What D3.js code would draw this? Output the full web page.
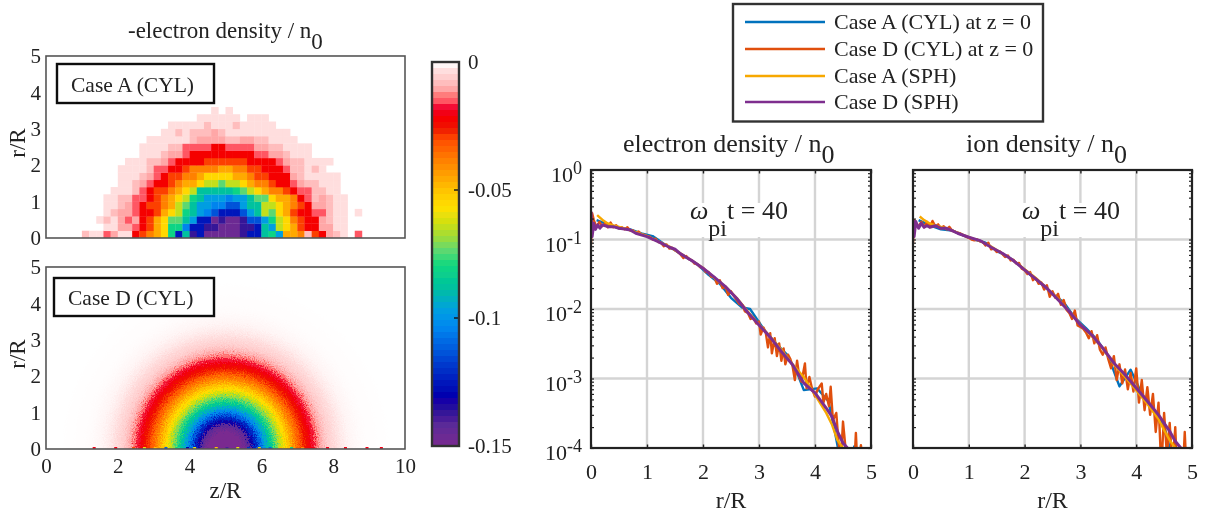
<!DOCTYPE html>
<html>
<head>
<meta charset="utf-8">
<script src="https://cdn.jsdelivr.net/npm/d3@7"></script>
<style>
  body { margin: 0; background: #fff; }
  svg { display: block; }
  text { font-family: "Liberation Serif", serif; fill: #222; }
</style>
</head>
<body>
<div id="chart"></div>
<script>
// Colour scale of the heat maps (0 = top, 1 = bottom)
const cmapStops = [0, 0.008, 0.025, 0.05, 0.07, 0.09, 0.105, 0.12, 0.15, 0.175, 0.2, 0.25, 0.3, 0.34, 0.38, 0.42, 0.46, 0.49, 0.53, 0.59, 0.645, 0.69, 0.74, 0.8, 0.865, 0.91, 0.945, 1];
const cmapColors = ["#ffffff", "#fff6f6", "#ffdcdc", "#ffc4c4", "#ffa8a8", "#ff7070", "#ff5060", "#f0002a", "#f50000", "#ee1a00", "#ff4a00", "#ff7a00", "#ffa500", "#ffc800", "#ffe000", "#d0e010", "#98dc40", "#60d870", "#10d880", "#00c0a0", "#00a0e0", "#0088f0", "#0060e0", "#0030c8", "#0000b0", "#301098", "#5a2a98", "#7a2a90"];
const cmapLevels = 64;
const barTicks = [0, -0.05, -0.1, -0.15];

// Case A (CYL): one string per r row from the axis up, one letter per z cell
const caseALetters = "abcdefghijklmnopqrs";
const caseALetterValues = [-0.0045, -0.0075, -0.011, -0.0145, -0.0225, -0.03, -0.039, -0.0465, -0.0555, -0.064, -0.0735, -0.08, -0.0885, -0.0975, -0.105, -0.1125, -0.1245, -0.136, -0.1455];
const caseARows = [
  ".....baadcaaefghilqmrqsssssrqqmlnhhgbfecba.d......",
  "........aaccdefhilloqqrrsssrrqmnjihfeeccaa........",
  ".......abacdcefhikkmnqqsrssrppnljigfeecbaa........",
  "........abccdeefhijlmnopqqqpnmjkihfeeddbaa.a......",
  "........aabcdeffghjkmnnooppnmmjjihgfeccbaa........",
  "........aabbddefghijlmnnnonnmkkihhgedbcbaa........",
  ".........aaabdeffghijmmmmmlkjihggfeddbbaa.........",
  "..........aabcdeefghhijjkjjihggfeedcbbaaa.........",
  "..........aaabcdeffgghiiiihhgffeeecbaaaaa.........",
  "..........aaaabddeefgggghhggffeeedbbaba...........",
  "...........aaabbcdeeeeffffffeeeedcbbaaaa..........",
  ".............aaabccdeeeeeeeeeddccbaaa.............",
  ".............aaaabbddddeeddddccbbaaaa.............",
  "..............aaaaaabccccbbccbbaaaa...............",
  "................aababbbcbaaaaaaaaa................",
  ".................aaaaabaaabaaaaa..................",
  ".....................aaaaaa.aaa...................",
  ".......................a.a........................"
];
const caseACell = 0.2;

// Case D (CYL): radial bands around the centre of the box
const caseDCentre = 5;
const caseDRadius = [0.1, 0.2, 0.3, 0.4, 0.5, 0.6, 0.7, 0.8, 0.9, 1.0, 1.1, 1.2, 1.3, 1.4, 1.5, 1.6, 1.7, 1.8, 1.9, 2.0, 2.1, 2.2, 2.3, 2.4, 2.5, 2.6, 2.7, 2.8, 2.9, 3.0, 3.1, 3.2, 3.3, 3.4, 3.5, 3.6, 3.7, 3.8, 3.9, 4.0, 4.2, 4.5];
const caseDValue = [-0.15, -0.15, -0.15, -0.15, -0.15, -0.147, -0.142, -0.132, -0.122, -0.111, -0.102, -0.093, -0.085, -0.077, -0.07, -0.063, -0.056, -0.05, -0.044, -0.038, -0.033, -0.028, -0.025, -0.021, -0.0175, -0.0135, -0.0105, -0.008, -0.006, -0.0048, -0.0038, -0.003, -0.0023, -0.0018, -0.0013, -0.001, -0.0008, -0.0006, -0.0004, -0.0003, -0.0002, -0.0001];
// noisy cells that sit right on the axis of case D
const caseDAxisZ = [1.3, 1.9, 2.4, 2.7, 3.0, 3.3, 3.6, 3.9, 4.1, 4.4, 4.7, 5.0, 5.3, 5.6, 5.9, 6.2, 6.5, 6.8, 7.1, 7.4, 7.8, 8.3, 8.9, 9.3];
const caseDAxisValue = [-0.02, -0.02, -0.03, -0.06, -0.05, -0.11, -0.08, -0.13, -0.06, -0.15, -0.05, -0.14, -0.06, -0.12, -0.06, -0.11, -0.05, -0.08, -0.04, -0.02, -0.02, -0.02, -0.02, -0.02];

const zTicks = [0, 2, 4, 6, 8, 10];
const rTicks = [0, 1, 2, 3, 4, 5];
const densityDecades = [1, 0.1, 0.01, 0.001, 0.0001];
const decadeLabels = ["0", "-1", "-2", "-3", "-4"];

// Radial profiles, [r/R, density / n0]
const electronA = [[0.1, 0.19], [0.3, 0.165], [0.5, 0.145], [0.7, 0.14], [0.9, 0.122], [1.1, 0.112], [1.3, 0.087], [1.5, 0.07], [1.7, 0.055], [1.9, 0.044], [2.1, 0.031], [2.3, 0.023], [2.5, 0.0145], [2.7, 0.0105], [2.84, 0.01], [3.1, 0.0049], [3.3, 0.0032], [3.5, 0.0022], [3.7, 0.0011], [3.8, 0.00068], [4.04, 0.00072], [4.24, 0.00047], [4.35, 0.00018], [4.41, 0.0001], [4.45, 0.00005], [4.65, 0.00005], [4.7, 0.000105], [4.74, 0.00005]];
const electronD = [[0, 0.085], [0.02, 0.24], [0.05, 0.19], [0.1, 0.15], [0.15, 0.18], [0.2, 0.155], [0.25, 0.17], [0.3, 0.15], [0.35, 0.175], [0.4, 0.15], [0.45, 0.16], [0.5, 0.145], [0.55, 0.15], [0.6, 0.14], [0.65, 0.15], [0.7, 0.135], [0.75, 0.135], [0.8, 0.125], [0.85, 0.13], [0.9, 0.118], [0.95, 0.117], [1, 0.112], [1.05, 0.11], [1.1, 0.1], [1.15, 0.103], [1.2, 0.092], [1.25, 0.09], [1.3, 0.08], [1.35, 0.085], [1.4, 0.074], [1.45, 0.076], [1.5, 0.07], [1.55, 0.066], [1.6, 0.061], [1.65, 0.054], [1.7, 0.058], [1.75, 0.052], [1.8, 0.05], [1.85, 0.045], [1.9, 0.044], [1.95, 0.04], [2, 0.039], [2.05, 0.034], [2.1, 0.034], [2.15, 0.029], [2.2, 0.029], [2.25, 0.023], [2.3, 0.026], [2.35, 0.02], [2.4, 0.021], [2.45, 0.016], [2.5, 0.018], [2.55, 0.0155], [2.6, 0.0135], [2.65, 0.0118], [2.7, 0.0115], [2.75, 0.0092], [2.8, 0.0088], [2.85, 0.0072], [2.9, 0.0075], [2.95, 0.0062], [3, 0.0066], [3.03, 0.0043], [3.08, 0.0054], [3.12, 0.0046], [3.16, 0.0028], [3.2, 0.0045], [3.23, 0.0023], [3.28, 0.0038], [3.32, 0.0021], [3.36, 0.0032], [3.4, 0.0018], [3.44, 0.0027], [3.47, 0.0016], [3.52, 0.0022], [3.56, 0.0019], [3.6, 0.0015], [3.64, 0.00095], [3.68, 0.0018], [3.72, 0.00105], [3.76, 0.0009], [3.82, 0.00165], [3.85, 0.00072], [3.9, 0.00105], [3.95, 0.0007], [4, 0.00055], [4.05, 0.0007], [4.12, 0.00085], [4.15, 0.00045], [4.2, 0.0006], [4.25, 0.0004], [4.28, 0.00076], [4.32, 0.00025], [4.38, 0.00032], [4.42, 0.00012], [4.46, 0.00006], [4.5, 0.00024], [4.55, 0.00009], [4.6, 0.00005], [4.7, 0.00005], [4.73, 0.000165], [4.76, 0.00005], [4.82, 0.00011], [4.86, 0.00005], [4.9, 0.00005]];
const electronSphA = [[0.11, 0.225], [0.22, 0.187], [0.3, 0.17], [0.4, 0.16], [0.6, 0.145], [0.8, 0.128], [1, 0.112], [1.2, 0.094], [1.4, 0.079], [1.6, 0.063], [1.8, 0.05], [2, 0.039], [2.2, 0.028], [2.4, 0.021], [2.6, 0.0145], [2.8, 0.0092], [3, 0.006], [3.2, 0.004], [3.4, 0.0026], [3.6, 0.0016], [3.8, 0.00105], [4, 0.00058], [4.2, 0.00032], [4.3, 0.00022], [4.4, 0.00013], [4.5, 0.0001], [4.55, 0.00006]];
const electronSphD = [[0, 0.252], [0.02, 0.11], [0.05, 0.171], [0.08, 0.14], [0.12, 0.162], [0.16, 0.145], [0.2, 0.162], [0.3, 0.153], [0.4, 0.153], [0.5, 0.145], [0.6, 0.142], [0.7, 0.137], [0.8, 0.123], [1, 0.11], [1.2, 0.0933], [1.4, 0.0774], [1.5, 0.0724], [1.6, 0.0621], [1.8, 0.0498], [2, 0.0386], [2.2, 0.0287], [2.4, 0.021], [2.6, 0.0143], [2.8, 0.0089], [3, 0.0059], [3.2, 0.00394], [3.4, 0.00245], [3.6, 0.00158], [3.8, 0.00086], [4, 0.00062], [4.2, 0.000376], [4.3, 0.000285], [4.4, 0.000174], [4.5, 0.000118], [4.58, 0.0001]];

const ionA = [[0.1, 0.19], [0.3, 0.16], [0.5, 0.14], [0.7, 0.135], [0.9, 0.115], [1.1, 0.1], [1.3, 0.09], [1.5, 0.068], [1.7, 0.057], [1.9, 0.043], [2.1, 0.031], [2.3, 0.023], [2.5, 0.0165], [2.7, 0.0125], [2.9, 0.0075], [3.1, 0.0053], [3.3, 0.0036], [3.5, 0.0021], [3.7, 0.00077], [3.9, 0.00134], [4.1, 0.0006], [4.3, 0.00038], [4.5, 0.00021], [4.6, 0.0001], [4.65, 0.00005]];
const ionD = [[0, 0.088], [0.02, 0.19], [0.05, 0.17], [0.1, 0.155], [0.15, 0.18], [0.2, 0.15], [0.25, 0.18], [0.3, 0.15], [0.35, 0.185], [0.4, 0.155], [0.45, 0.165], [0.5, 0.145], [0.55, 0.155], [0.6, 0.14], [0.65, 0.152], [0.7, 0.135], [0.75, 0.13], [0.8, 0.125], [0.85, 0.122], [0.9, 0.115], [0.95, 0.11], [1, 0.105], [1.05, 0.1], [1.1, 0.097], [1.15, 0.1], [1.2, 0.094], [1.25, 0.092], [1.3, 0.082], [1.35, 0.09], [1.4, 0.072], [1.45, 0.074], [1.5, 0.066], [1.55, 0.068], [1.6, 0.062], [1.65, 0.056], [1.7, 0.059], [1.75, 0.05], [1.8, 0.051], [1.85, 0.045], [1.9, 0.046], [1.95, 0.038], [2, 0.036], [2.05, 0.032], [2.1, 0.034], [2.15, 0.026], [2.2, 0.028], [2.25, 0.023], [2.3, 0.024], [2.35, 0.019], [2.4, 0.022], [2.45, 0.015], [2.5, 0.018], [2.55, 0.0145], [2.6, 0.0165], [2.65, 0.0115], [2.7, 0.0135], [2.75, 0.0098], [2.8, 0.0088], [2.85, 0.0072], [2.9, 0.0095], [2.95, 0.0058], [3, 0.0055], [3.05, 0.0052], [3.1, 0.0046], [3.15, 0.0038], [3.2, 0.0048], [3.25, 0.0032], [3.3, 0.0042], [3.35, 0.0026], [3.4, 0.0022], [3.45, 0.0028], [3.5, 0.0019], [3.55, 0.0014], [3.6, 0.0021], [3.65, 0.00095], [3.7, 0.0016], [3.75, 0.00085], [3.8, 0.00135], [3.85, 0.0007], [3.9, 0.0012], [3.95, 0.00065], [4, 0.0014], [4.05, 0.00045], [4.1, 0.00095], [4.15, 0.00035], [4.2, 0.00075], [4.25, 0.0003], [4.3, 0.0006], [4.35, 0.00017], [4.4, 0.00045], [4.45, 0.00005], [4.5, 0.00032], [4.55, 0.00008], [4.6, 0.00023], [4.65, 0.00005], [4.7, 0.0002], [4.73, 0.00005], [4.84, 0.00005], [4.87, 0.00017], [4.9, 0.00005]];
const ionSphA = [[0.12, 0.214], [0.2, 0.19], [0.3, 0.17], [0.4, 0.16], [0.6, 0.145], [0.8, 0.125], [1, 0.108], [1.2, 0.095], [1.4, 0.079], [1.6, 0.063], [1.8, 0.05], [2, 0.0375], [2.2, 0.028], [2.4, 0.02], [2.6, 0.014], [2.8, 0.0093], [3, 0.006], [3.2, 0.0041], [3.4, 0.0027], [3.6, 0.0016], [3.8, 0.00105], [4, 0.00068], [4.2, 0.00043], [4.4, 0.00026], [4.5, 0.00018], [4.6, 0.00013], [4.7, 0.0001]];
const ionSphD = [[0, 0.191], [0.02, 0.11], [0.05, 0.181], [0.1, 0.145], [0.15, 0.171], [0.2, 0.15], [0.25, 0.158], [0.3, 0.15], [0.4, 0.158], [0.5, 0.145], [0.6, 0.145], [0.7, 0.134], [0.8, 0.123], [1, 0.1077], [1.2, 0.0965], [1.4, 0.0774], [1.6, 0.0634], [1.8, 0.0498], [2, 0.0366], [2.2, 0.0271], [2.4, 0.0199], [2.6, 0.01355], [2.8, 0.0092], [3, 0.0059], [3.2, 0.00425], [3.4, 0.00274], [3.6, 0.00167], [3.8, 0.00113], [4, 0.00073], [4.2, 0.00047], [4.4, 0.0003], [4.6, 0.000174], [4.7, 0.000125], [4.8, 0.0001]];

const seriesNames = ["Case A (CYL) at z = 0", "Case D (CYL) at z = 0", "Case A (SPH)", "Case D (SPH)"];
const seriesColors = ["#0072bd", "#e0500f", "#f7a800", "#7e2f8e"];
const seriesWidths = [2.4, 2.4, 2.4, 3];

const width = 1214, height = 516;

const svg = d3.select("#chart").append("svg")
    .attr("width", width)
    .attr("height", height);

const defs = svg.append("defs");

// the reference is a soft raster, so everything gets a slight blur
const soft = defs.append("filter").attr("id", "soft")
    .attr("filterUnits", "userSpaceOnUse")
    .attr("x", 0).attr("y", 0).attr("width", width).attr("height", height);
soft.append("feGaussianBlur").attr("stdDeviation", 0.55);

// grain for the particle noise of case D: it only shakes the band edges
const grain = defs.append("filter").attr("id", "grain")
    .attr("filterUnits", "userSpaceOnUse")
    .attr("x", 0).attr("y", 200).attr("width", 480).attr("height", 316);
grain.append("feTurbulence")
    .attr("type", "fractalNoise").attr("baseFrequency", 0.9)
    .attr("numOctaves", 2).attr("seed", 4).attr("result", "noise");
grain.append("feDisplacementMap")
    .attr("in", "SourceGraphic").attr("in2", "noise")
    .attr("scale", 11)
    .attr("xChannelSelector", "R").attr("yChannelSelector", "G");

const root = svg.append("g").attr("filter", "url(#soft)");

const cmap = d3.scaleLinear().domain(cmapStops).range(cmapColors).interpolate(d3.interpolateRgb);
const valueToT = d3.scaleLinear().domain([0, -0.15]).range([0, 1]).clamp(true);
// colour bar has 64 flat levels
const levelOf = v => Math.min(cmapLevels - 1, Math.floor(valueToT(v) * cmapLevels));
const levelColor = l => cmap((l + 0.5) / cmapLevels);
const hyphen = d => d3.format("~g")(d).replace("\u2212", "-");

const mapLeft = 46, mapRight = 405;
const xMap = d3.scaleLinear().domain([0, 10]).range([mapLeft, mapRight]);

function drawMapFrame(top, bottom, id) {
    const yMap = d3.scaleLinear().domain([0, 5]).range([bottom, top]);
    defs.append("clipPath").attr("id", id)
        .append("rect")
        .attr("x", mapLeft).attr("y", top)
        .attr("width", mapRight - mapLeft).attr("height", bottom - top);
    return yMap;
}

function drawMapAxes(yMap, top, bottom, withX) {
    root.append("rect")
        .attr("x", mapLeft).attr("y", top)
        .attr("width", mapRight - mapLeft).attr("height", bottom - top)
        .attr("fill", "none").attr("stroke", "#555").attr("stroke-width", 1.6);

    const yAxis = root.append("g")
        .attr("transform", "translate(" + mapLeft + ",0)")
        .call(d3.axisLeft(yMap).tickValues(rTicks).tickFormat(d3.format("d")).tickSize(0).tickPadding(5));
    yAxis.select(".domain").remove();
    yAxis.selectAll("text").style("font-size", "21px").style("font-family", null);

    root.append("text")
        .attr("transform", "translate(25," + ((top + bottom) / 2 - 4) + ") rotate(-90)")
        .attr("text-anchor", "middle")
        .style("font-size", "23px")
        .text("r/R");

    if (withX) {
        const xAxis = root.append("g")
            .attr("transform", "translate(0," + bottom + ")")
            .call(d3.axisBottom(xMap).tickValues(zTicks).tickFormat(d3.format("d")).tickSize(0).tickPadding(9));
        xAxis.select(".domain").remove();
        xAxis.selectAll("text").style("font-size", "21px").style("font-family", null);
    }
}

function labelBox(x0, x1, y0, y1, label) {
    root.append("rect")
        .attr("x", x0).attr("y", y0)
        .attr("width", x1 - x0).attr("height", y1 - y0)
        .attr("fill", "#fff").attr("stroke", "#111").attr("stroke-width", 2.4);
    root.append("text")
        .attr("x", x0 + 14).attr("y", (y0 + y1) / 2 + 8)
        .style("font-size", "21.5px")
        .text(label);
}

// Case A heat map
const topA = 56, bottomA = 238;
const yA = drawMapFrame(topA, bottomA, "clipA");
const cellsA = caseARows.flatMap((row, j) => Array.from(row, (ch, i) => ({
    i, j, value: ch === "." ? 0 : caseALetterValues[caseALetters.indexOf(ch)]
}))).filter(d => d.value !== 0);

root.append("g")
    .attr("clip-path", "url(#clipA)")
    .selectAll("rect")
    .data(cellsA)
    .join("rect")
    .attr("x", d => xMap(d.i * caseACell))
    .attr("y", d => yA((d.j + 1) * caseACell))
    .attr("width", xMap(caseACell) - xMap(0) + 0.3)
    .attr("height", yA(0) - yA(caseACell) + 0.3)
    .attr("fill", d => levelColor(levelOf(d.value)));

drawMapAxes(yA, topA, bottomA, false);
labelBox(57, 214, 64, 103, "Case A (CYL)");

// Case D heat map, outermost band first
const topD = 267, bottomD = 449;
const yD = drawMapFrame(topD, bottomD, "clipD");
const bands = d3.zip(caseDRadius, caseDValue).reverse();
const clippedD = root.append("g").attr("clip-path", "url(#clipD)");

clippedD.append("g")
    .attr("filter", "url(#grain)")
    .selectAll("ellipse")
    .data(bands)
    .join("ellipse")
    .attr("cx", xMap(caseDCentre))
    .attr("cy", yD(0))
    .attr("rx", d => xMap(caseDCentre + d[0]) - xMap(caseDCentre))
    .attr("ry", d => yD(0) - yD(d[0]))
    .attr("fill", d => cmap(valueToT(d[1])));

clippedD.append("g")
    .selectAll("rect")
    .data(d3.zip(caseDAxisZ, caseDAxisValue))
    .join("rect")
    .attr("x", d => xMap(d[0]))
    .attr("y", bottomD - 2)
    .attr("width", 3)
    .attr("height", 2)
    .attr("fill", d => cmap(valueToT(d[1])));

drawMapAxes(yD, topD, bottomD, true);
labelBox(54, 214, 278, 316, "Case D (CYL)");

root.append("text")
    .attr("x", (xMap(0) + xMap(10)) / 2).attr("y", 498)
    .attr("text-anchor", "middle")
    .style("font-size", "23px")
    .text("z/R");

root.append("text")
    .attr("x", 128).attr("y", 38)
    .style("font-size", "23px")
    .call(t => {
        t.append("tspan").text("-electron density / n");
        t.append("tspan").attr("dy", 11).text("0");
    });

// Colour bar
const barLeft = 432, barRight = 459;
const yBar = d3.scaleLinear().domain([-0.15, 0]).range([446, 62]);

root.append("g")
    .selectAll("rect")
    .data(d3.range(cmapLevels))
    .join("rect")
    .attr("x", barLeft)
    .attr("y", l => yBar(-(l / cmapLevels) * 0.15))
    .attr("width", barRight - barLeft)
    .attr("height", (yBar(-0.15) - yBar(0)) / cmapLevels + 0.3)
    .attr("fill", l => levelColor(l));

const barAxis = root.append("g")
    .attr("transform", "translate(" + barRight + ",0)")
    .call(d3.axisRight(yBar).tickValues(barTicks).tickFormat(hyphen).tickSize(0).tickPadding(9));
barAxis.select(".domain").remove();
barAxis.selectAll("text").style("font-size", "21px").style("font-family", null)
    .attr("text-anchor", "start");

root.append("g")
    .selectAll("line")
    .data(barTicks.slice(1, 3))
    .join("line")
    .attr("x1", barRight - 5).attr("x2", barRight)
    .attr("y1", d => yBar(d)).attr("y2", d => yBar(d))
    .attr("stroke", "#111").attr("stroke-width", 1.4);

root.append("rect")
    .attr("x", barLeft).attr("y", 62)
    .attr("width", barRight - barLeft).attr("height", 384)
    .attr("fill", "none").attr("stroke", "#333").attr("stroke-width", 2.4);

// Legend of the profile panels
const legendY = [22, 49, 76, 102];

root.append("rect")
    .attr("x", 733).attr("y", 4)
    .attr("width", 310).attr("height", 117.5)
    .attr("fill", "#fff").attr("stroke", "#333").attr("stroke-width", 2.4);

seriesNames.forEach((name, i) => {
    root.append("line")
        .attr("x1", 745).attr("x2", 825)
        .attr("y1", legendY[i]).attr("y2", legendY[i])
        .attr("stroke", seriesColors[i]).attr("stroke-width", 2.4);
    root.append("text")
        .attr("x", 834).attr("y", legendY[i] + 7)
        .style("font-size", "22px")
        .text(name);
});

// Profile panels
const panelTop = 170, panelBottom = 448;
const yLog = d3.scaleLog().domain([1e-4, 1]).range([panelBottom, panelTop]);
const xTicks = [0, 1, 2, 3, 4, 5];

function drawPanel(opt) {
    const xLin = d3.scaleLinear().domain([0, 5]).range([opt.left, opt.right]);
    const g = root.append("g");

    g.append("rect")
        .attr("x", opt.left).attr("y", panelTop)
        .attr("width", opt.right - opt.left).attr("height", panelBottom - panelTop)
        .attr("fill", "#fff");

    // grid
    g.append("g").selectAll("line")
        .data(xTicks.slice(1, 5))
        .join("line")
        .attr("x1", d => xLin(d)).attr("x2", d => xLin(d))
        .attr("y1", panelTop).attr("y2", panelBottom)
        .attr("stroke", "#d4d4d4").attr("stroke-width", 2.4);
    g.append("g").selectAll("line")
        .data(densityDecades.slice(1, 4))
        .join("line")
        .attr("x1", opt.left).attr("x2", opt.right)
        .attr("y1", d => yLog(d)).attr("y2", d => yLog(d))
        .attr("stroke", "#d4d4d4").attr("stroke-width", 2.4);

    // white box behind the time label hides the grid
    g.append("rect")
        .attr("x", opt.stampX - 4).attr("y", 203)
        .attr("width", 101).attr("height", 34)
        .attr("fill", "#fff");

    const line = d3.line()
        .x(d => xLin(d[0]))
        .y(d => yLog(d[1]));

    const clipId = "clip" + opt.left;
    defs.append("clipPath").attr("id", clipId)
        .append("rect")
        .attr("x", opt.left).attr("y", panelTop)
        .attr("width", opt.right - opt.left).attr("height", panelBottom - panelTop);

    g.append("g")
        .attr("clip-path", "url(#" + clipId + ")")
        .selectAll("path")
        .data(opt.series)
        .join("path")
        .attr("d", line)
        .attr("fill", "none")
        .attr("stroke", (d, i) => seriesColors[i])
        .attr("stroke-width", (d, i) => seriesWidths[i])
        .attr("stroke-linejoin", "round");

    // inside ticks on all four sides
    const minor = yLog.ticks();
    [d3.axisLeft, d3.axisRight].forEach((axis, k) => {
        const a = g.append("g")
            .attr("transform", "translate(" + (k ? opt.right : opt.left) + ",0)")
            .call(axis(yLog).tickValues(minor).tickSize(-3).tickFormat(""));
        a.select(".domain").remove();
        a.selectAll("line").attr("stroke", "#222").attr("stroke-width", 1.2);
    });
    [d3.axisBottom, d3.axisTop].forEach((axis, k) => {
        const a = g.append("g")
            .attr("transform", "translate(0," + (k ? panelTop : panelBottom) + ")")
            .call(axis(xLin).tickValues(xTicks).tickSize(-3.5).tickFormat(""));
        a.select(".domain").remove();
        a.selectAll("line").attr("stroke", "#222").attr("stroke-width", 1.4);
    });

    g.append("rect")
        .attr("x", opt.left).attr("y", panelTop)
        .attr("width", opt.right - opt.left).attr("height", panelBottom - panelTop)
        .attr("fill", "none").attr("stroke", "#222").attr("stroke-width", 2.2);

    const xAxis = g.append("g")
        .attr("transform", "translate(0," + panelBottom + ")")
        .call(d3.axisBottom(xLin).tickValues(xTicks).tickFormat(d3.format("d")).tickSize(0).tickPadding(15));
    xAxis.select(".domain").remove();
    xAxis.selectAll("text").style("font-size", "22px").style("font-family", null);

    g.append("text")
        .attr("x", (opt.left + opt.right) / 2).attr("y", 508)
        .attr("text-anchor", "middle")
        .style("font-size", "24px")
        .text("r/R");

    if (opt.yLabels) {
        const yAxis = g.append("g")
            .attr("transform", "translate(" + (opt.left - 9) + ",0)")
            .selectAll("text")
            .data(densityDecades)
            .join("text")
            .attr("text-anchor", "end")
            .attr("y", d => yLog(d) + 12)
            .style("font-size", "22px");
        yAxis.append("tspan").text("10");
        yAxis.append("tspan")
            .attr("dy", -8)
            .style("font-size", "18px")
            .text((d, i) => decadeLabels[i]);
    }

    g.append("text")
        .attr("x", opt.titleX).attr("y", 152)
        .style("font-size", "26px")
        .call(t => {
            t.append("tspan").text(opt.title);
            t.append("tspan").attr("dy", 11).text("0");
        });

    // time stamp
    const stamp = g.append("text")
        .attr("x", opt.stampX).attr("y", 219)
        .style("font-size", "26px");
    stamp.append("tspan").style("font-style", "italic").text("\u03c9");
    stamp.append("tspan").attr("dy", 17).style("font-size", "24px").text("pi");
    stamp.append("tspan").attr("dy", -17).text("t = 40");
}

drawPanel({
    left: 591, right: 871, yLabels: true,
    titleX: 623, title: "electron density / n", stampX: 690,
    series: [electronA, electronD, electronSphA, electronSphD]
});
drawPanel({
    left: 913, right: 1192, yLabels: false,
    titleX: 966, title: "ion density / n", stampX: 1022,
    series: [ionA, ionD, ionSphA, ionSphD]
});
</script>
</body>
</html>
